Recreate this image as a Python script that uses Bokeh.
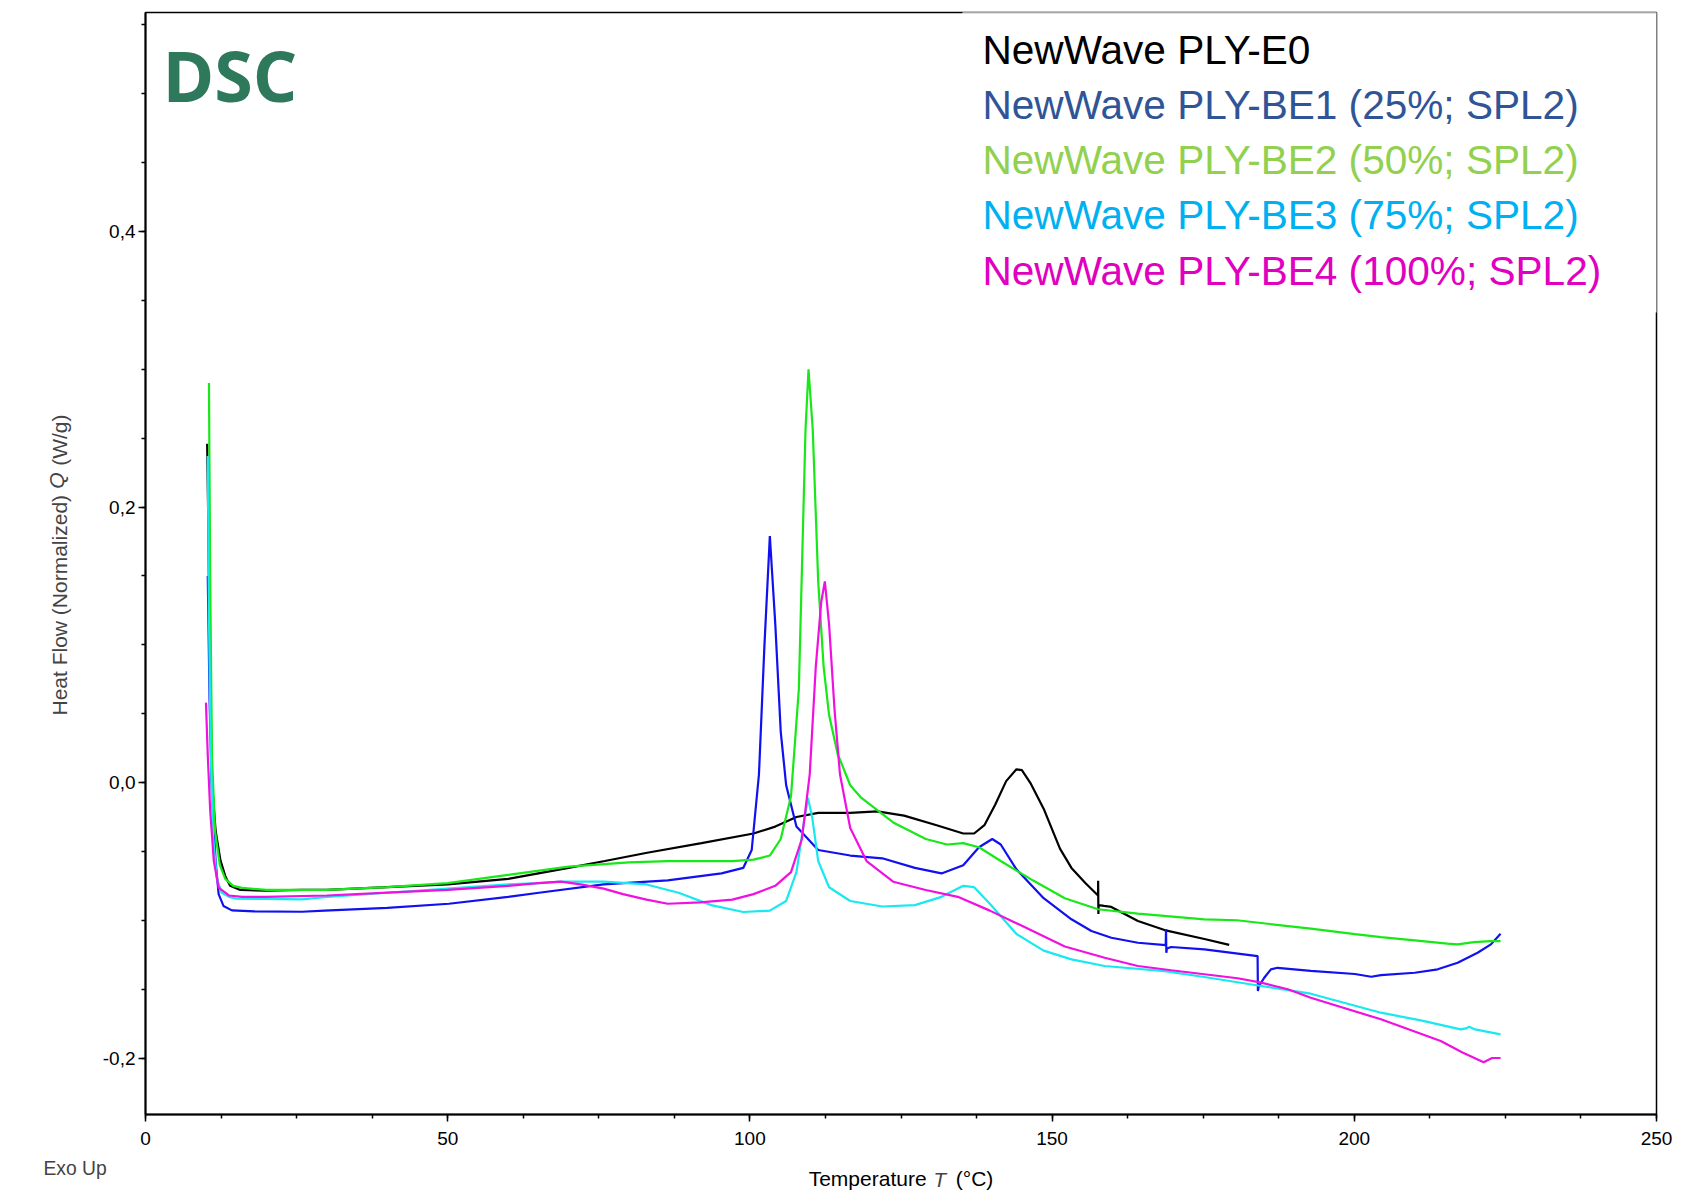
import numpy as np
from math import pi
from bokeh.plotting import figure
from bokeh.models import Range1d, FixedTicker, CustomJSTickFormatter, Label, BoxAnnotation
from bokeh.embed import file_html
from bokeh.resources import INLINE

# ---------------- data ----------------
series_names = [
    "NewWave PLY-E0",
    "NewWave PLY-BE1 (25%; SPL2)",
    "NewWave PLY-BE2 (50%; SPL2)",
    "NewWave PLY-BE3 (75%; SPL2)",
    "NewWave PLY-BE4 (100%; SPL2)",
]

e0_T = [10.2, 10.35, 10.6, 11.0, 11.6, 12.4, 13.2, 14.0, 15.7, 20, 25.9, 30, 40, 50, 60, 65, 70, 76, 83, 92,
        100.6, 104.2, 107.7, 111.3, 116.6, 121.1, 125.5, 130.9, 135.3, 137.1, 138.8, 140.6, 142.4, 144.1,
        145.0, 146.5, 148.6, 151.3, 153.2, 155.5, 157.6, 157.62, 157.66, 157.7, 158.6, 159.8, 164.2, 168.6,
        175.2, 179.3]
e0_Q = [0.246, 0.2, 0.1, 0.0, -0.035, -0.0565, -0.068, -0.075, -0.078, -0.0785, -0.078, -0.078, -0.076,
        -0.074, -0.07, -0.066, -0.062, -0.057, -0.051, -0.044, -0.037, -0.032, -0.025, -0.022, -0.022,
        -0.021, -0.024, -0.031, -0.037, -0.037, -0.031, -0.016, 0.001, 0.0096, 0.009, -0.001, -0.019,
        -0.048, -0.062, -0.073, -0.082, -0.0714, -0.0954, -0.089, -0.0896, -0.0903, -0.1005, -0.1071,
        -0.1136, -0.1179]

be1_T = [10.3, 10.6, 11.0, 11.6, 12.1, 12.9, 14.3, 18, 25.9, 29.6, 40, 50.2, 60, 65.1, 75.8, 86.4, 95.3,
         98.9, 100.3, 101.5, 102.4, 103.3, 104.2, 105.1, 106.0, 107.7, 111.3, 116.6, 121.9, 127.3, 131.7,
         135.3, 137.9, 140.1, 141.5, 144.1, 148.6, 153.2, 156.5, 159.8, 164.2, 168.8, 168.85, 168.9, 169.0,
         169.7, 175.2, 184.0, 184.05, 184.2, 185.1, 186.2, 187.3, 192.8, 200.1, 202.8, 204.4, 210.0, 213.8,
         217.1, 220.4, 222.6, 224.2]
be1_Q = [0.15, 0.06, -0.01, -0.057, -0.081, -0.0896, -0.0928, -0.0935, -0.0938, -0.093, -0.091, -0.088,
         -0.083, -0.080, -0.074, -0.071, -0.066, -0.062, -0.049, 0.006, 0.099, 0.179, 0.115, 0.037, -0.002,
         -0.032, -0.049, -0.053, -0.055, -0.062, -0.066, -0.060, -0.047, -0.041, -0.045, -0.063, -0.084,
         -0.0993, -0.1078, -0.1127, -0.1163, -0.118, -0.1066, -0.1236, -0.1205, -0.1194, -0.1211, -0.126,
         -0.1514, -0.148, -0.1417, -0.1356, -0.1345, -0.1368, -0.139, -0.141, -0.1398, -0.1381, -0.1356,
         -0.1308, -0.1236, -0.1175, -0.1098]

be2_T = [10.5, 10.7, 11.0, 11.5, 12.3, 13.2, 14.5, 16, 20, 30, 40, 50, 60, 70, 80, 86.4, 92, 97.1, 100.6,
         103.3, 105.1, 106.8, 108.1, 109.2, 109.7, 110.4, 111.3, 112.2, 113.1, 114.5, 116.6, 118.4, 123.7,
         129.1, 132.6, 135.3, 137.9, 141.5, 146.8, 152.1, 157.6, 164.2, 175.2, 180.6, 192.8, 200.1, 204.4,
         210.0, 215.4, 217.1, 219.8, 222.6, 224.2]
be2_Q = [0.29, 0.15, 0.02, -0.035, -0.06, -0.07, -0.075, -0.0765, -0.078, -0.078, -0.076, -0.073, -0.067,
         -0.061, -0.058, -0.057, -0.057, -0.057, -0.056, -0.053, -0.041, -0.010, 0.068, 0.256, 0.300, 0.256,
         0.146, 0.084, 0.049, 0.021, -0.002, -0.011, -0.029, -0.041, -0.045, -0.044, -0.047, -0.057, -0.071,
         -0.084, -0.092, -0.0952, -0.0993, -0.100, -0.1061, -0.110, -0.1122, -0.1146, -0.117, -0.1175,
         -0.1158, -0.1151, -0.1151]

be3_T = [10.3, 10.5, 10.8, 11.2, 11.8, 12.6, 13.8, 15, 20, 25.9, 30, 40, 50, 60, 65.1, 68.7, 75.8, 82.9,
         88.2, 93.6, 98.9, 103.3, 106.0, 107.7, 108.8, 109.6, 110.3, 111.3, 113.1, 116.6, 121.9, 127.3,
         131.7, 135.3, 137.1, 139.7, 144.1, 148.6, 153.2, 158.7, 168.6, 175.2, 184.6, 192.8, 204.4, 211.0,
         217.6, 218.5, 219.0, 219.8, 224.2]
be3_Q = [0.237, 0.12, 0.02, -0.04, -0.07, -0.08, -0.083, -0.0843, -0.0845, -0.0848, -0.083, -0.080, -0.077,
         -0.074, -0.073, -0.072, -0.072, -0.074, -0.080, -0.089, -0.094, -0.093, -0.086, -0.065, -0.033,
         -0.011, -0.025, -0.057, -0.076, -0.086, -0.090, -0.089, -0.083, -0.075, -0.076, -0.088, -0.110,
         -0.122, -0.1284, -0.1332, -0.1369, -0.1412, -0.1477, -0.1533, -0.1671, -0.1727, -0.1792, -0.1785,
         -0.1773, -0.179, -0.1828]

be4_T = [10.0, 10.3, 10.7, 11.3, 12.1, 13.8, 16, 20, 30, 40, 50, 60, 65, 68.7, 72, 75.8, 79, 82.9, 86.4,
         91.8, 97.1, 100.6, 104.2, 106.8, 108.6, 109.9, 110.9, 111.8, 112.4, 113.1, 114.0, 114.9, 116.6,
         119.3, 123.7, 129.1, 134.4, 139.7, 145.0, 152.1, 158.7, 164.2, 169.7, 175.2, 180.7, 184.6, 189.0,
         192.8, 204.4, 214.3, 217.9, 221.4, 222.8, 224.2]
be4_Q = [0.058, 0.02, -0.02, -0.057, -0.0763, -0.082, -0.083, -0.083, -0.082, -0.080, -0.078, -0.075,
         -0.073, -0.072, -0.074, -0.077, -0.081, -0.085, -0.088, -0.087, -0.085, -0.081, -0.075, -0.065,
         -0.041, 0.006, 0.084, 0.131, 0.146, 0.115, 0.053, 0.006, -0.033, -0.057, -0.072, -0.078, -0.083,
         -0.093, -0.104, -0.119, -0.1272, -0.1332, -0.1363, -0.1392, -0.1421, -0.1453, -0.1501, -0.1562,
         -0.1719, -0.1877, -0.196, -0.203, -0.200, -0.200]

x_major_ticks = [0, 50, 100, 150, 200, 250]
y_major_ticks = [-0.2, 0.0, 0.2, 0.4]

line_colors = ["#000000", "#1010F0", "#18E818", "#18E8F0", "#F010E0"]
legend_colors = ["#000000", "#2F5597", "#92D050", "#00B0F0", "#E000C0"]

NB = "\u00a0"
x_title = "Temperature" + NB * 5 + "(°C)"
y_title = "Heat Flow (Normalized)" + NB * 5 + "(W/g)"

# ---------------- figure ----------------
W, H = 1685, 1192
FL, FR, FT, FB = 143, 1656, 12, 1114

p = figure(width=W, height=H, output_backend="svg", toolbar_location=None,
           x_range=Range1d(0, 250), y_range=Range1d(-0.241, 0.559),
           min_border_left=FL, min_border_right=W - FR, min_border_top=FT, min_border_bottom=H - FB,
           background_fill_color="white", border_fill_color="white")

p.outline_line_color = "black"
p.outline_line_width = 1.5
p.xgrid.visible = False
p.ygrid.visible = False

p.xaxis.ticker = FixedTicker(ticks=x_major_ticks, minor_ticks=list(np.arange(0, 250.01, 12.5)))
p.yaxis.ticker = FixedTicker(ticks=y_major_ticks, minor_ticks=list(np.round(np.arange(-0.2, 0.5501, 0.05), 3)))
p.yaxis.formatter = CustomJSTickFormatter(code="return tick.toFixed(1).replace('.', ',');")

for ax in (p.xaxis[0], p.yaxis[0]):
    ax.axis_line_color = "black"
    ax.axis_line_width = 2
    ax.major_tick_line_color = "black"
    ax.minor_tick_line_color = "black"
    ax.major_tick_line_width = 1.5
    ax.minor_tick_line_width = 1.5
    ax.major_tick_in = 0
    ax.major_tick_out = 7
    ax.minor_tick_in = 0
    ax.minor_tick_out = 4
    ax.major_label_text_font = "Liberation Sans"
    ax.major_label_text_font_size = "19px"
    ax.major_label_text_color = "black"
p.xaxis.major_label_standoff = 10
p.yaxis.major_label_standoff = 3

p.xaxis.axis_label = x_title
p.xaxis.axis_label_text_font = "Liberation Sans"
p.xaxis.axis_label_text_font_size = "21px"
p.xaxis.axis_label_text_font_style = "normal"
p.xaxis.axis_label_text_color = "black"
p.xaxis.axis_label_standoff = 19

# ---------------- curves ----------------
all_T = [e0_T, be1_T, be2_T, be3_T, be4_T]
all_Q = [e0_Q, be1_Q, be2_Q, be3_Q, be4_Q]
for T, Q, c in zip(all_T, all_Q, line_colors):
    p.line(T, Q, line_color=c, line_width=2.2)

# ---------------- legend box & texts ----------------
frame_h = FB - FT
p.add_layout(BoxAnnotation(left=960 - FL, right=FR - FL, top=frame_h + 1, bottom=frame_h - 300,
                           left_units="screen", right_units="screen", top_units="screen", bottom_units="screen",
                           fill_color="white", fill_alpha=1.0, line_color=None, level="overlay"))
p.add_layout(BoxAnnotation(left=960 - FL, right=FR - FL, top=frame_h + 0.5, bottom=frame_h - 1,
                           left_units="screen", right_units="screen", top_units="screen", bottom_units="screen",
                           fill_color="#C8C8C8", fill_alpha=1.0, line_color=None, level="overlay"))

baselines = [64.5, 119.6, 174.7, 229.9, 285.0]
for name, c, b in zip(series_names, legend_colors, baselines):
    p.add_layout(Label(x=980 - FL, y=FB - b + 15, x_units="screen", y_units="screen", text=name,
                       text_font="Liberation Sans", text_font_size="40.6px", text_color=c,
                       text_align="left", text_baseline="alphabetic", level="overlay"))

p.add_layout(Label(x=160 - FL, y=FB - 104 + 30, x_units="screen", y_units="screen", text="DSC",
                   text_font="Open Sans", text_font_style="bold", text_font_size="70px",
                   text_color="#2E785C", text_align="left", text_baseline="alphabetic"))

# ---------------- texts outside the frame, hosted in side panels ----------------
lab_font = "Liberation Sans"
# left panels (stacked outward from the y axis): Exo Up, italic Q, italic T
p.add_layout(Label(x=7, y=FB - 1168, x_units="screen", y_units="screen",
                   text="Exo Up", text_font=lab_font, text_font_size="19.3px",
                   text_align="left", text_baseline="middle"), "left")
p.add_layout(Label(x=42.5, y=FB - 480, x_units="screen", y_units="screen", angle=pi / 2,
                   text="Q", text_font=lab_font, text_font_size="21px", text_font_style="italic",
                   text_align="center", text_baseline="middle"), "left")
p.add_layout(Label(x=933, y=FB - 1179, x_units="screen", y_units="screen",
                   text="T", text_font=lab_font, text_font_size="20.5px", text_font_style="italic",
                   text_align="left", text_baseline="middle"), "left")
# right panel: y title
p.add_layout(Label(x=58.5 - FR, y=FB - 715, x_units="screen", y_units="screen", angle=pi / 2,
                   text=y_title, text_font=lab_font, text_font_size="21px",
                   text_align="left", text_baseline="middle"), "right")

open("out.html", "w").write(file_html(p, INLINE))
